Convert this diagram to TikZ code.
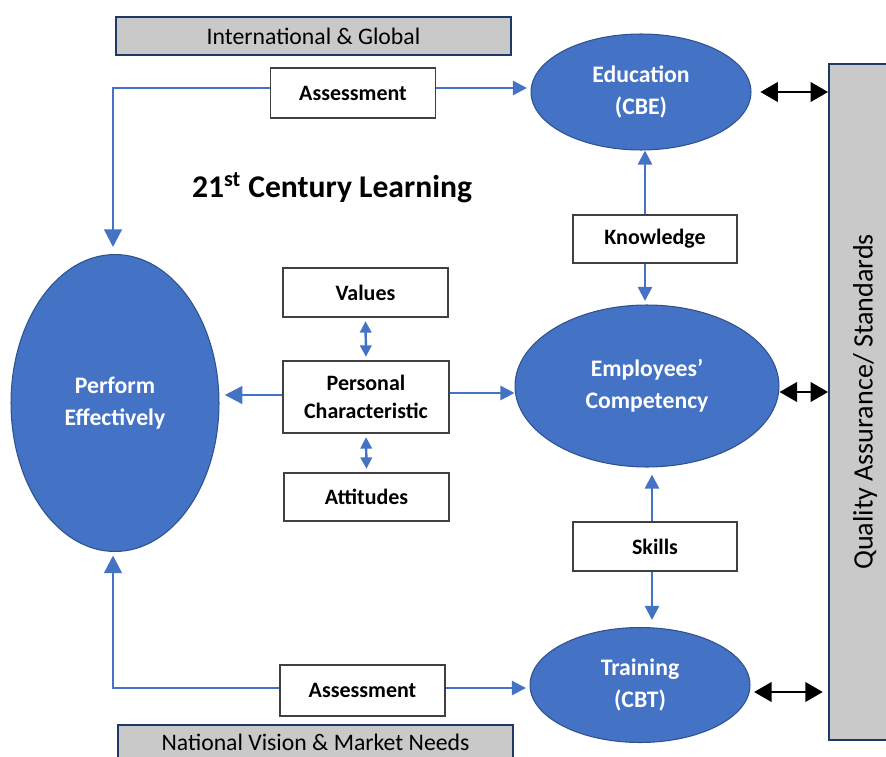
\documentclass[tikz,border=0pt]{standalone}
\usepackage{fontspec}
\setmainfont{Carlito}
\usetikzlibrary{shapes.geometric,arrows.meta}

\definecolor{ovalblue}{HTML}{4472C4}
\definecolor{ovalline}{HTML}{2F528F}
\definecolor{bandgray}{HTML}{C9C9C9}
\definecolor{bandline}{HTML}{203864}

\tikzset{
  oval/.style={ellipse, draw=ovalline, fill=ovalblue, text=white, align=center,
    inner sep=0pt, line width=0.6pt, font=\fontsize{13.5}{18}\selectfont\bfseries},
  labelbox/.style={draw=black!75, fill=white, align=center, inner sep=0pt,
    line width=0.8pt, font=\fontsize{12.5}{16}\selectfont\bfseries},
  band/.style={draw=bandline, fill=bandgray, line width=1pt, inner sep=0pt,
    font=\fontsize{13.5}{16}\selectfont},
  flow/.style={draw=ovalblue, line width=1.4pt, -{Triangle[length=8pt,width=8pt]}},
  bigflow/.style={flow, -{Triangle[length=10pt,width=10pt]}},
  twoway/.style={draw=ovalblue, line width=1.4pt,
    {Triangle[length=6.5pt,width=6.5pt]}-{Triangle[length=6.5pt,width=6.5pt]}},
  qaflow/.style={draw=black, line width=1.7pt,
    {Triangle[length=10pt,width=11pt]}-{Triangle[length=10pt,width=11pt]}}
}

\begin{document}
\begin{tikzpicture}[x=0.02cm,y=-0.02cm]
  \clip (0,0) rectangle (886,757);

  % grey bands
  \node[band, minimum width=7.9cm, minimum height=0.76cm] (global) at (313.5,36) {International \& Global};
  \node[band, minimum width=7.9cm, minimum height=0.68cm] (national) at (315.5,742) {National Vision \& Market Needs};
  \node[band, minimum width=1.44cm, minimum height=13.52cm, font=\fontsize{16}{18}\selectfont] (qa) at (865,402)
    {\rotatebox{90}{Quality Assurance/ Standards}};

  % title
  \node[font=\fontsize{18}{20}\selectfont\bfseries] (title) at (332,188) {21\textsuperscript{st} Century Learning};

  % ovals
  \node[oval, minimum width=4.4cm, minimum height=2.32cm] (edu) at (641,92) {Education\\(CBE)};
  \node[oval, minimum width=5.28cm, minimum height=3.24cm] (comp) at (647,386) {Employees’\\Competency};
  \node[oval, minimum width=4.4cm, minimum height=2.3cm] (train) at (640,685) {Training\\(CBT)};
  \node[oval, minimum width=4.16cm, minimum height=5.94cm] (perform) at (115,403) {Perform\\Effectively};

  % white boxes
  \node[labelbox, minimum width=3.3cm, minimum height=1cm] (assessTop) at (353,93) {Assessment};
  \node[labelbox, minimum width=3.3cm, minimum height=1.02cm] (assessBot) at (362.5,690.5) {Assessment};
  \node[labelbox, minimum width=3.28cm, minimum height=0.96cm] (know) at (655,239) {Knowledge};
  \node[labelbox, minimum width=3.28cm, minimum height=0.98cm] (skills) at (655,546.5) {Skills};
  \node[labelbox, minimum width=3.3cm, minimum height=0.98cm] (values) at (365.5,292.5) {Values};
  \node[labelbox, minimum width=3.32cm, minimum height=1.44cm] (pc) at (366,397) {Personal\\Characteristic};
  \node[labelbox, minimum width=3.3cm, minimum height=0.96cm] (attit) at (366.5,497) {Attitudes};

  % assessment loops
  \coordinate (tl) at (113,88);
  \coordinate (bl) at (113,688);
  \draw[bigflow, shorten >=4pt] (assessTop.west |- tl) -- (tl) -- (tl |- perform.north);
  \draw[flow, shorten >=2pt] (assessTop.east |- tl) -- (edu.west |- tl);
  \draw[bigflow, shorten >=2pt] (assessBot.west |- bl) -- (bl) -- (bl |- perform.south);
  \draw[flow, shorten >=2pt] (assessBot.east |- bl) -- (train.west |- bl);

  % knowledge and skills
  \draw[flow] ([xshift=-0.2cm]know.north) -- ([xshift=-0.2cm]know.north |- edu.south);
  \draw[flow, shorten >=2pt] ([xshift=-0.2cm]know.south) -- ([xshift=-0.2cm]know.south |- comp.north);
  \draw[flow, shorten >=4pt] ([xshift=-0.06cm]skills.north) -- ([xshift=-0.06cm]skills.north |- comp.south);
  \draw[flow, shorten >=4pt] ([xshift=-0.06cm]skills.south) -- ([xshift=-0.06cm]skills.south |- train.north);

  % personal characteristic
  \draw[twoway, shorten <=2pt, shorten >=2pt] (values.south) -- (pc.north);
  \draw[twoway, shorten <=2pt, shorten >=2pt] (pc.south) -- (attit.north);
  \draw[flow] ([yshift=0.08cm]pc.east) -- ([yshift=0.08cm]pc.east -| comp.west);
  \draw[bigflow, shorten >=3pt] ([yshift=0.04cm]pc.west) -- ([yshift=0.04cm]pc.west -| perform.east);

  % quality assurance
  \draw[qaflow, shorten <=5pt] (edu.east) -- (edu.east -| qa.west);
  \draw[qaflow] ([yshift=-0.12cm]comp.east) -- ([yshift=-0.12cm]comp.east -| qa.west);
  \draw[qaflow, shorten <=2pt, shorten >=3pt] ([yshift=-0.14cm]train.east) -- ([yshift=-0.14cm]train.east -| qa.west);
\end{tikzpicture}
\end{document}
